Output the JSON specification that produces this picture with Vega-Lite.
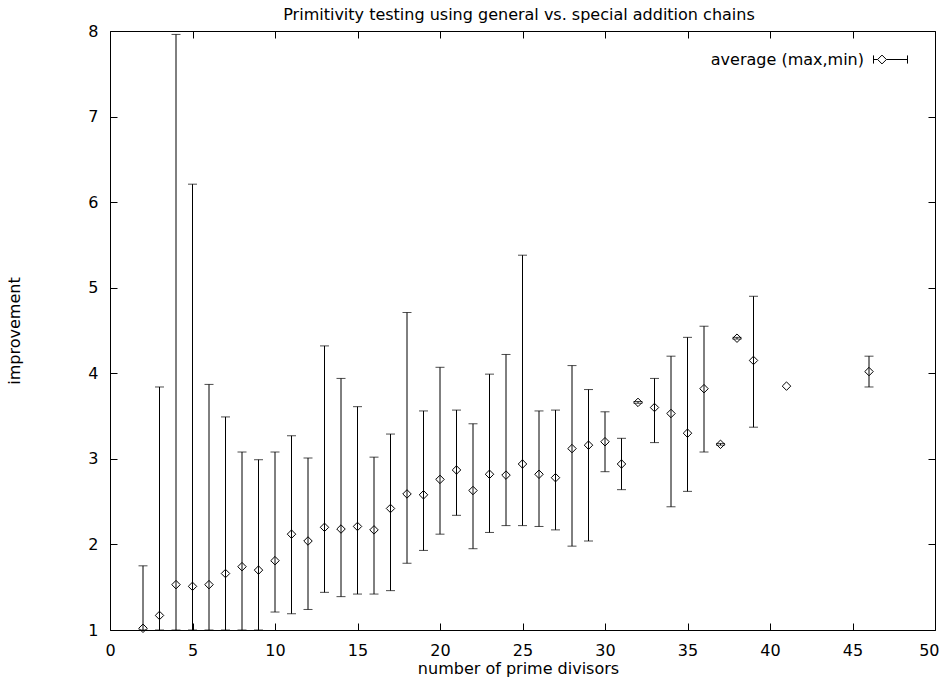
{
  "$schema": "https://vega.github.io/schema/vega-lite/v6.json",
  "autosize": "none",
  "width": 825,
  "height": 599,
  "padding": {"left": 110, "top": 31, "right": 5, "bottom": 49},
  "background": "white",
  "data": {
    "values": [
      {"n": 2, "avg": 1.02, "max": 1.75, "min": 1.0},
      {"n": 3, "avg": 1.17, "max": 3.84, "min": 1.0},
      {"n": 4, "avg": 1.53, "max": 7.96, "min": 1.0},
      {"n": 5, "avg": 1.51, "max": 6.21, "min": 1.0},
      {"n": 6, "avg": 1.53, "max": 3.87, "min": 1.0},
      {"n": 7, "avg": 1.66, "max": 3.49, "min": 1.0},
      {"n": 8, "avg": 1.74, "max": 3.08, "min": 1.0},
      {"n": 9, "avg": 1.70, "max": 2.99, "min": 1.0},
      {"n": 10, "avg": 1.81, "max": 3.08, "min": 1.21},
      {"n": 11, "avg": 2.12, "max": 3.27, "min": 1.19},
      {"n": 12, "avg": 2.04, "max": 3.01, "min": 1.24},
      {"n": 13, "avg": 2.20, "max": 4.32, "min": 1.44},
      {"n": 14, "avg": 2.18, "max": 3.94, "min": 1.39},
      {"n": 15, "avg": 2.21, "max": 3.61, "min": 1.42},
      {"n": 16, "avg": 2.17, "max": 3.02, "min": 1.42},
      {"n": 17, "avg": 2.42, "max": 3.29, "min": 1.46},
      {"n": 18, "avg": 2.59, "max": 4.71, "min": 1.78},
      {"n": 19, "avg": 2.58, "max": 3.56, "min": 1.93},
      {"n": 20, "avg": 2.76, "max": 4.07, "min": 2.12},
      {"n": 21, "avg": 2.87, "max": 3.57, "min": 2.34},
      {"n": 22, "avg": 2.63, "max": 3.41, "min": 1.95},
      {"n": 23, "avg": 2.82, "max": 3.99, "min": 2.14},
      {"n": 24, "avg": 2.81, "max": 4.22, "min": 2.22},
      {"n": 25, "avg": 2.94, "max": 5.38, "min": 2.22},
      {"n": 26, "avg": 2.82, "max": 3.56, "min": 2.21},
      {"n": 27, "avg": 2.78, "max": 3.57, "min": 2.17},
      {"n": 28, "avg": 3.12, "max": 4.09, "min": 1.98},
      {"n": 29, "avg": 3.16, "max": 3.81, "min": 2.04},
      {"n": 30, "avg": 3.20, "max": 3.55, "min": 2.85},
      {"n": 31, "avg": 2.94, "max": 3.24, "min": 2.64},
      {"n": 32, "avg": 3.66, "max": 3.67, "min": 3.65},
      {"n": 33, "avg": 3.60, "max": 3.94, "min": 3.19},
      {"n": 34, "avg": 3.53, "max": 4.20, "min": 2.44},
      {"n": 35, "avg": 3.30, "max": 4.42, "min": 2.62},
      {"n": 36, "avg": 3.82, "max": 4.55, "min": 3.08},
      {"n": 37, "avg": 3.17, "max": 3.18, "min": 3.16},
      {"n": 38, "avg": 4.41, "max": 4.42, "min": 4.40},
      {"n": 39, "avg": 4.15, "max": 4.90, "min": 3.37},
      {"n": 41, "avg": 3.85, "max": null, "min": null},
      {"n": 46, "avg": 4.02, "max": 4.20, "min": 3.84}
    ]
  },
  "layer": [
    {
      "mark": {"type": "rule", "color": "black", "strokeWidth": 1},
      "encoding": {
        "x": {
          "field": "n", "type": "quantitative",
          "scale": {"domain": [0, 50], "nice": false, "zero": false},
          "axis": {
            "orient": "bottom",
            "values": [0, 5, 10, 15, 20, 25, 30, 35, 40, 45, 50],
            "title": "number of prime divisors",
            "titleX": 408,
            "titleY": 43,
            "titleBaseline": "alphabetic",
            "titleAlign": "center",
            "labelBaseline": "alphabetic",
            "labelPadding": 32,
            "labelAlign": {"condition": {"test": "datum.value == 50", "value": "right"}, "value": "center"},
            "labelOffset": {"condition": {"test": "datum.value == 50", "value": 4}, "value": 0}
          }
        },
        "y": {
          "field": "min", "type": "quantitative",
          "scale": {"domain": [1, 8], "nice": false, "zero": false},
          "axis": {
            "orient": "left",
            "values": [1, 2, 3, 4, 5, 6, 7, 8],
            "title": "improvement",
            "titleAngle": 270,
            "titleX": -91,
            "titleY": 299.5,
            "titleAlign": "center",
            "titleBaseline": "alphabetic",
            "labelPadding": 19
          }
        },
        "y2": {"field": "max"}
      }
    },
    {
      "mark": {"type": "tick", "orient": "horizontal", "color": "black", "size": 9, "thickness": 1},
      "encoding": {
        "x": {
          "field": "n", "type": "quantitative",
          "axis": {
            "orient": "top",
            "values": [0, 5, 10, 15, 20, 25, 30, 35, 40, 45, 50],
            "labels": false,
            "title": "Primitivity testing using general vs. special addition chains",
            "titleX": 408.5,
            "titleY": -12,
            "titleAlign": "center",
            "titleBaseline": "alphabetic"
          }
        },
        "y": {
          "field": "max", "type": "quantitative",
          "axis": {"orient": "right", "values": [1, 2, 3, 4, 5, 6, 7, 8], "labels": false, "title": null}
        }
      }
    },
    {
      "mark": {"type": "tick", "orient": "horizontal", "color": "black", "size": 9, "thickness": 1},
      "encoding": {
        "x": {"field": "n", "type": "quantitative", "axis": null},
        "y": {"field": "min", "type": "quantitative", "axis": null}
      }
    },
    {
      "mark": {"type": "point", "shape": "diamond", "filled": false, "size": 72, "strokeWidth": 1, "opacity": 1},
      "encoding": {
        "x": {"field": "n", "type": "quantitative", "axis": null},
        "y": {"field": "avg", "type": "quantitative", "axis": null},
        "color": {
          "datum": "average (max,min)",
          "scale": {"range": ["black"]},
          "legend": {
            "orient": "none",
            "legendX": 763,
            "legendY": 11,
            "title": null,
            "padding": 0,
            "symbolType": "M-1,-0.24L-1,0.24M-1,0L-0.76,0L-0.5,-0.26L-0.24,0L-0.5,0.26L-0.76,0M-0.24,0L1,0M1,-0.24L1,0.24",
            "symbolSize": 1156,
            "symbolStrokeColor": "black",
            "symbolFillColor": "transparent",
            "symbolStrokeWidth": 1,
            "labelAlign": "right",
            "labelOffset": -44,
            "labelFontSize": 16,
            "labelFont": "DejaVu Sans",
            "labelColor": "black"
          }
        }
      }
    }
  ],
  "resolve": {"axis": {"x": "independent", "y": "independent"}},
  "config": {
    "font": "DejaVu Sans",
    "view": {"stroke": "black", "strokeWidth": 1},
    "axis": {
      "domain": false,
      "grid": false,
      "ticks": true,
      "tickSize": -7,
      "tickColor": "black",
      "tickWidth": 1,
      "labelFlush": false,
      "labelOverlap": false,
      "labelFont": "DejaVu Sans",
      "labelFontSize": 16,
      "labelColor": "black",
      "titleFont": "DejaVu Sans",
      "titleFontSize": 16,
      "titleFontWeight": "normal",
      "titleColor": "black"
    }
  }
}
